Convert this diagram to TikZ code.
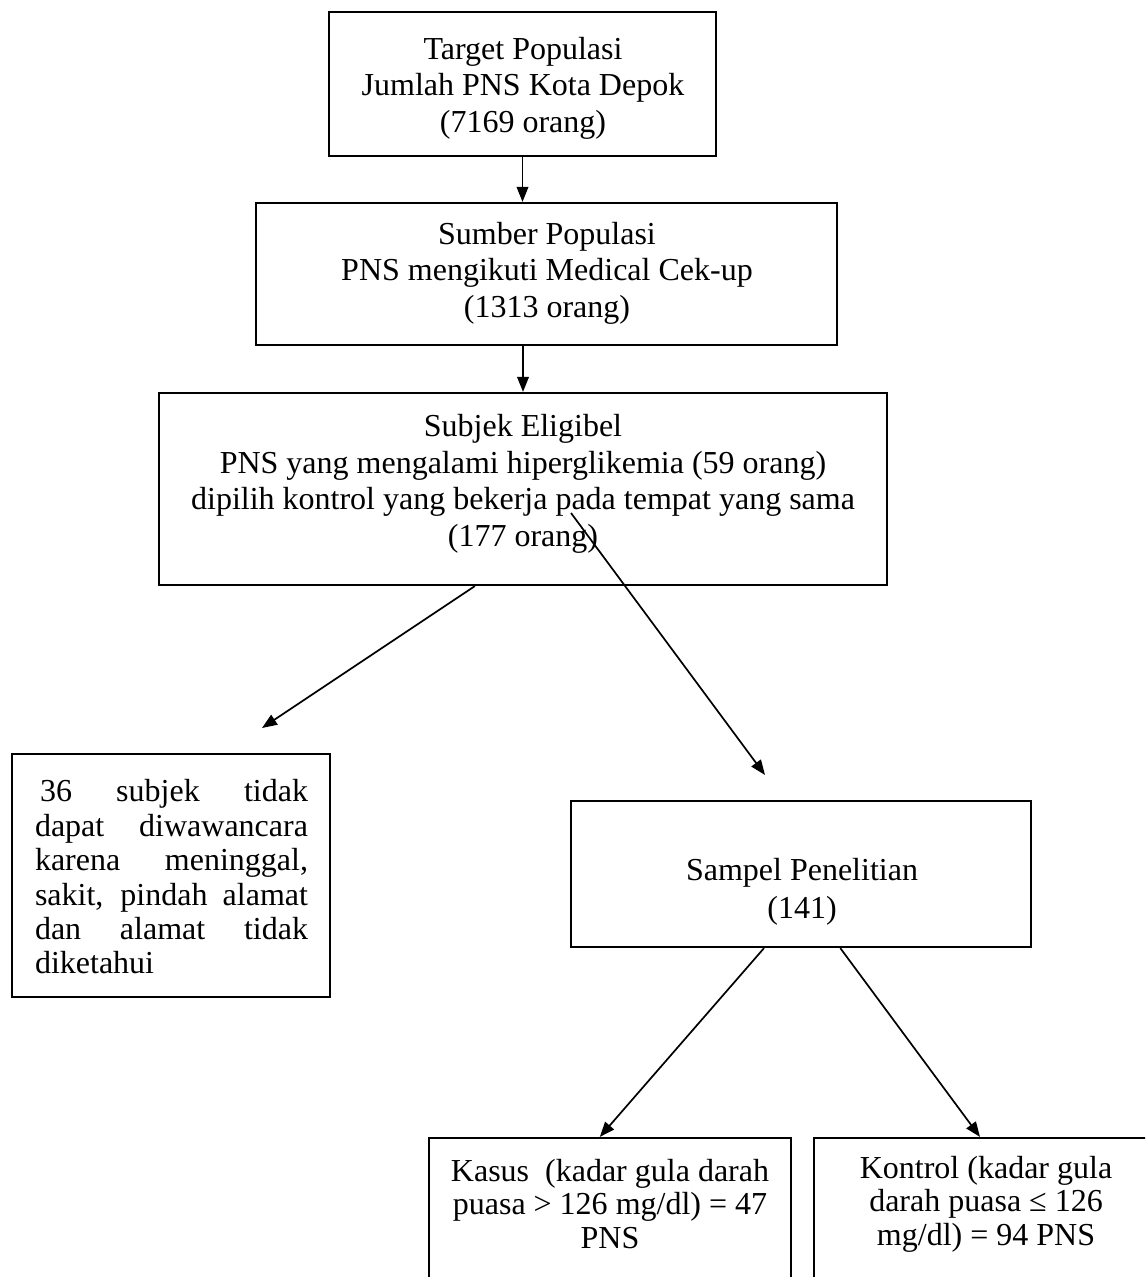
\documentclass[tikz,border=0pt]{standalone}
\usepackage{fontspec}
\setmainfont{Liberation Serif}
\usetikzlibrary{arrows.meta,calc}
\begin{document}
\begin{tikzpicture}[x=0.5pt,y=-0.5pt,
  box/.style={draw,line width=1.1pt,inner sep=0pt,rectangle},
  txt/.style={align=center,inner sep=0pt,font=\fontsize{16}{18.3}\selectfont},
  arr/.style={line width=0.85pt,-{Triangle[length=7.5pt,width=5.8pt]}}]
\useasboundingbox (0,0) rectangle (1145,1277);
\clip (0,0) rectangle (1145,1277);
% boxes
\node[box,minimum width=193.5pt,minimum height=72pt] (b1) at (522.5,84) {};
\node[box,minimum width=290.5pt,minimum height=71pt] (b2) at (546.5,274) {};
\node[box,minimum width=364pt,minimum height=96pt] (b3) at (523,489) {};
\node[box,line width=0.8pt,minimum width=159pt,minimum height=121.5pt] (b4) at (171,875.5) {};
\node[box,minimum width=230pt,minimum height=73pt] (b5) at (801,874) {};
\node[box,minimum width=181pt,minimum height=81pt] (b6) at (610,1219) {};
\node[box,minimum width=175.5pt,minimum height=81pt] (b7) at (989.5,1219) {};
% texts
\node[txt] (t1) at (523,88) {Target Populasi\\Jumlah PNS Kota Depok\\(7169 orang)};
\node[txt] (t2) at (547,273) {Sumber Populasi\\PNS mengikuti Medical Cek-up\\(1313 orang)};
\node[txt] (t3) at (523,484) {Subjek Eligibel\\PNS yang mengalami hiperglikemia (59 orang)\\dipilih kontrol yang bekerja pada tempat yang sama\\(177 orang)};
\node[txt,align=left,font=\fontsize{16}{17.2}\selectfont] (t4) at (171.5,877) {%
\makebox[136.5pt][s]{\hspace{2.5pt}36 subjek tidak}\\
\makebox[136.5pt][s]{dapat diwawancara}\\
\makebox[136.5pt][s]{karena meninggal,}\\
\makebox[136.5pt][s]{sakit, pindah alamat}\\
\makebox[136.5pt][s]{dan alamat tidak}\\
diketahui};
\node[txt,font=\fontsize{16}{19}\selectfont] (t5) at (802,892) {Sampel Penelitian\\(141)};
\node[txt,font=\fontsize{16}{16.8}\selectfont] (t6) at (610,1204) {Kasus\ \ (kadar gula darah\\puasa > 126 mg/dl) = 47\\PNS};
\node[txt,font=\fontsize{16}{16.8}\selectfont] (t7) at (986,1204) {Kontrol (kadar gula\\darah puasa ≤ 126\\mg/dl) = 94 PNS};
% connectors
\draw[arr] (b1.south) -- (b1.south |- b2.north);
\draw[arr] (b3.north |- b2.south) -- (b3.north);
\coordinate (c3) at (262,728);
\draw[arr] ($(b3.south west)!0.434!(b3.south east)$) -- (c3);
\coordinate (c4) at (765,775);
\draw[arr] ($(b3.center)+(48,24)$) -- (c4);
\draw[arr] ($(b5.south west)!0.42!(b5.south east)$) -- ($(b6.north west)!0.472!(b6.north east)$);
\draw[arr] ($(b5.south west)!0.585!(b5.south east)$) -- ($(b7.north west)!0.473!(b7.north east)$);
\end{tikzpicture}
\end{document}
